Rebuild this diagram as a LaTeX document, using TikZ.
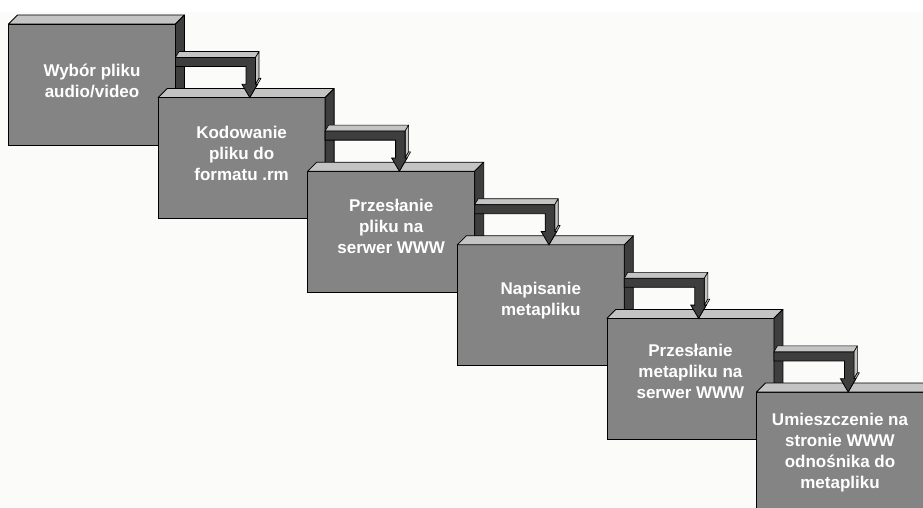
\documentclass[tikz,border=0pt]{standalone}
\usepackage{fontspec}
\setmainfont{Liberation Sans}
\usetikzlibrary{calc}
\definecolor{facegray}{RGB}{132,132,132}
\definecolor{topgray}{RGB}{196,196,196}
\definecolor{sidegray}{RGB}{62,62,62}
\definecolor{bgtint}{RGB}{251,252,250}
\tikzset{
  boxface/.style={draw=black, line width=0.8pt, fill=facegray, minimum width=167pt,
    minimum height=121pt, inner sep=0pt, outer sep=0pt, anchor=north west},
  boxtop/.style={draw=black, line width=0.8pt, fill=topgray, line join=round},
  boxside/.style={draw=black, line width=0.8pt, fill=sidegray, line join=round},
  arrowfront/.style={draw=black, line width=0.8pt, fill=sidegray, line join=miter},
  arrowlight/.style={draw=black, line width=0.6pt, fill=topgray, line join=round},
  boxtext/.style={text=white, font=\bfseries\fontsize{17}{21}\selectfont, align=center,
    inner sep=0pt},
}
\newcommand\mkbox[5]{%
  \node[boxface] (#1) at (#2,#3) {};
  \draw[boxtop] (#1.north west) -- ++(9,-9) -- ($(#1.north east)+(9,-9)$) -- (#1.north east) -- cycle;
  \draw[boxside] (#1.north east) -- ++(9,-9) -- ($(#1.south east)+(9,-9)$) -- (#1.south east) -- cycle;
  \node[boxtext] (#1t) at ([yshift=#5]#1.center) {#4};
}
\newcommand\mkarrow[2]{%
  \begin{scope}[shift={(#1.north east)}]
    \draw[arrowlight] (0,33.5) -- (80,33.5) -- (83.5,27.5) -- (3.5,27.5) -- cycle;
    \draw[arrowlight] (80,33.5) -- (83.5,27.5) -- (83.5,54.3) -- (80,60.3) -- cycle;
    \draw[arrowlight] (80,60.3) -- (82,60.3) -- (74.25,73.6) -- (77.75,67.6) -- (85.5,54.3) -- (83.5,54.3) -- cycle;
    \draw[arrowfront] (0,33.5) -- (80,33.5) -- (80,60.3) -- (82,60.3) -- (74.25,73.6)
      -- (66.5,60.3) -- (70.5,60.3) -- (70.5,42.5) -- (0,42.5) -- cycle;
    \coordinate (#1-#2-tip) at (74.25,73.6);
  \end{scope}
}
\begin{document}
\begin{tikzpicture}[x=1pt,y=-1pt]
  \useasboundingbox (0,0) rectangle (923,508);
  \clip (0,0) rectangle (923,508);
  \fill[white] (0,0) rectangle (923,508);
  \fill[bgtint] (0,12) rectangle (923,508);
  \mkbox{b1}{8.5}{24}{Wybór pliku\\audio/video}{4pt}
  \mkbox{b2}{158.1}{97.6}{Kodowanie\\pliku do\\formatu .rm}{5pt}
  \mkbox{b3}{307.7}{171.2}{Przesłanie\\pliku na\\serwer WWW}{5pt}
  \mkbox{b4}{457.3}{244.8}{Napisanie\\metapliku}{5pt}
  \mkbox{b5}{606.9}{318.4}{Przesłanie\\metapliku na\\serwer WWW}{7pt}
  \mkbox{b6}{756.5}{392}{Umieszczenie na\\stronie WWW\\odnośnika do\\metapliku}{0pt}
  \mkarrow{b1}{b2}
  \mkarrow{b2}{b3}
  \mkarrow{b3}{b4}
  \mkarrow{b4}{b5}
  \mkarrow{b5}{b6}
\end{tikzpicture}
\end{document}
